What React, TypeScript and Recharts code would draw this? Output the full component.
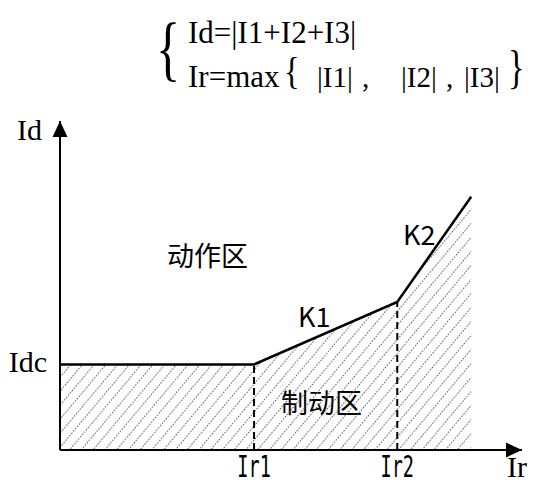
import {
  Area,
  ComposedChart,
  Line,
  ReferenceLine,
  XAxis,
  YAxis,
} from "recharts";

// characteristic break points (Ir, Id) in arbitrary units
const IR = [0, 42, 73, 89];
const ID = [26, 26, 45, 77];

const X_TICKS = [42, 73];
const X_TICK_LABELS = ["Ir1", "Ir2"];
const Y_TICKS = [26];
const Y_TICK_LABELS = ["Idc"];

const AXIS_MAX = 100;

const data = IR.map((ir, i) => ({ ir, id: ID[i] }));

const SERIF = "'Liberation Serif', 'Times New Roman', serif";
const SANS = "'Noto Sans CJK SC', 'Noto Sans', sans-serif";

function XTick(props: any) {
  const { x, y, payload } = props;
  const idx = X_TICKS.indexOf(payload.value);
  return (
    <text
      transform={`translate(${x},${y}) scale(0.62,1)`}
      textAnchor="middle"
      fontFamily="'DejaVu Sans Mono', monospace"
      fontSize={30}
      dy={27}
      fill="#000"
    >
      {X_TICK_LABELS[idx]}
    </text>
  );
}

function YTick(props: any) {
  const { x, y, payload } = props;
  const idx = Y_TICKS.indexOf(payload.value);
  return (
    <text
      x={x}
      y={y}
      dy={8}
      textAnchor="end"
      fontFamily={SERIF}
      fontSize={30}
      fill="#000"
    >
      {Y_TICK_LABELS[idx]}
    </text>
  );
}

export default function App() {
  return (
    <div style={{ position: "absolute", left: 0, top: 0, background: "#fff" }}>
      <ComposedChart
        width={538}
        height={484}
        data={data}
        margin={{ top: 121, right: 16, bottom: 0, left: 0 }}
      >
        <defs>
          <pattern
            id="hatch"
            patternUnits="userSpaceOnUse"
            width={9}
            height={6}
            patternTransform="rotate(40)"
          >
            <line
              x1={0.5}
              y1={0}
              x2={0.5}
              y2={6}
              stroke="#555"
              strokeWidth={1}
              strokeDasharray="1.5 1.5"
            />
          </pattern>
          <marker
            id="arrow"
            markerUnits="userSpaceOnUse"
            markerWidth={16}
            markerHeight={16}
            viewBox="0 0 16 16"
            refX={16}
            refY={8}
            orient="auto"
          >
            <path d="M0,0.5 L16,8 L0,15.5 z" fill="#000" />
          </marker>
        </defs>

        <XAxis
          dataKey="ir"
          type="number"
          domain={[0, AXIS_MAX]}
          ticks={X_TICKS}
          tick={<XTick />}
          height={34}
          axisLine={false}
          tickLine={false}
          tickSize={0}
          tickMargin={0}
        />
        <YAxis
          type="number"
          domain={[0, AXIS_MAX]}
          ticks={Y_TICKS}
          tick={<YTick />}
          width={60}
          axisLine={false}
          tickLine={false}
          tickSize={10}
          tickMargin={3}
        />

        <Area
          dataKey="id"
          type="linear"
          stroke="none"
          fill="url(#hatch)"
          fillOpacity={1}
          isAnimationActive={false}
        />

        {/* dashed drops from the break points */}
        <ReferenceLine
          segment={[
            { x: IR[1], y: 0 },
            { x: IR[1], y: ID[1] },
          ]}
          stroke="#000"
          strokeWidth={2}
          strokeDasharray="7 4"
        />
        <ReferenceLine
          segment={[
            { x: IR[2], y: 0 },
            { x: IR[2], y: ID[2] },
          ]}
          stroke="#000"
          strokeWidth={2}
          strokeDasharray="7 4"
        />

        {/* axes with arrow heads */}
        <ReferenceLine
          segment={[
            { x: 0, y: 0 },
            { x: AXIS_MAX, y: 0 },
          ]}
          stroke="#000"
          strokeWidth={2}
          markerEnd="url(#arrow)"
        />
        <ReferenceLine
          segment={[
            { x: 0, y: 0 },
            { x: 0, y: AXIS_MAX },
          ]}
          stroke="#000"
          strokeWidth={2}
          markerEnd="url(#arrow)"
        />

        <Line
          dataKey="id"
          type="linear"
          stroke="#000"
          strokeWidth={2.5}
          dot={false}
          isAnimationActive={false}
        />

        {/* formula */}
        <text
          x={156}
          y={72}
          fontFamily={SERIF}
          fontSize={72}
          transform="translate(156,0) scale(0.7,1) translate(-156,0)"
        >
          {"{"}
        </text>
        <text x={188} y={43} fontFamily={SERIF} fontSize={31}>
          Id=|I1+I2+I3|
        </text>
        <text x={188} y={87} fontFamily={SERIF} fontSize={31}>
          Ir=max
        </text>
        <text
          x={284}
          y={84}
          fontFamily={SERIF}
          fontSize={38}
          transform="translate(284,0) scale(0.85,1) translate(-284,0)"
        >
          {"{"}
        </text>
        <text y={87} fontFamily={SERIF} fontSize={29}>
          <tspan x={317}>|I1|</tspan>
          <tspan x={362}>,</tspan>
          <tspan x={401}>|I2|</tspan>
          <tspan x={446}>,</tspan>
          <tspan x={464}>|I3|</tspan>
        </text>
        <text
          x={508}
          y={83}
          fontFamily={SERIF}
          fontSize={46}
          transform="translate(508,0) scale(0.75,1) translate(-508,0)"
        >
          {"}"}
        </text>

        {/* axis names */}
        <text x={17} y={140} fontFamily={SERIF} fontSize={30}>
          Id
        </text>
        <text x={507} y={477} fontFamily={SERIF} fontSize={30}>
          Ir
        </text>

        {/* region and slope annotations */}
        <text x={167} y={266} fontFamily={SANS} fontSize={27}>
          动作区
        </text>
        <text x={281} y={413} fontFamily={SANS} fontSize={27}>
          制动区
        </text>
        <text x={298} y={327} fontFamily={SANS} fontSize={27}>
          K1
        </text>
        <text x={403} y={245} fontFamily={SANS} fontSize={27}>
          K2
        </text>
      </ComposedChart>
    </div>
  );
}
